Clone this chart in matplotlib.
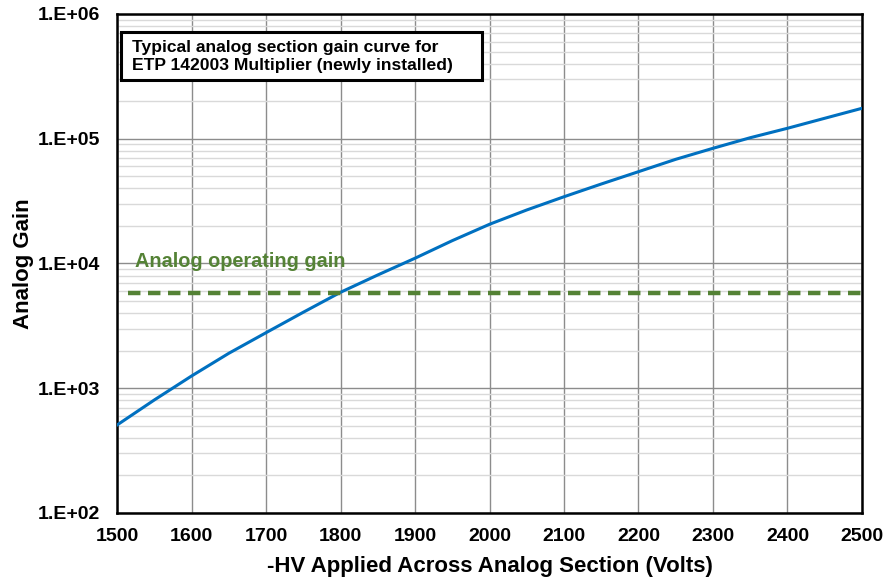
import math
import matplotlib
matplotlib.use("Agg")
import matplotlib.pyplot as plt
from matplotlib.patches import Rectangle
from matplotlib.ticker import LogLocator, FixedLocator, FuncFormatter

plt.rcParams['font.family'] = ['Liberation Sans', 'DejaVu Sans']
plt.rcParams['font.weight'] = 'bold'

# gain curve
hv_volts = [1500, 1550, 1600, 1650, 1700, 1750, 1800, 1850, 1900, 1950, 2000,
            2050, 2100, 2150, 2200, 2250, 2300, 2350, 2400, 2450, 2500]
analog_gain = [507, 805, 1253, 1905, 2787, 4065, 5875, 8090, 11020, 15240, 20620,
               26850, 34280, 43350, 54440, 68400, 83820, 101900, 121300, 145900, 175400]

operating_gain = 5800
operating_span = [1515, 2500]
x_ticks = list(range(1500, 2501, 100))

fig = plt.figure(figsize=(8.88, 5.78), dpi=100)
ax = fig.add_axes([0.1318, 0.1125, 0.8389, 0.8633])

ax.set_yscale('log')
ax.set_xlim(1500, 2500)
ax.set_ylim(1e2, 1e6)

# grid
ax.xaxis.set_major_locator(FixedLocator(x_ticks))
ax.yaxis.set_major_locator(LogLocator(base=10, numticks=10))
ax.yaxis.set_minor_locator(LogLocator(base=10, subs=range(2, 10), numticks=20))
ax.grid(True, which='major', color='#8c8c8c', linewidth=1.0)
ax.grid(True, which='minor', axis='y', color='#d9d9d9', linewidth=1.0)
ax.set_axisbelow(True)

ax.plot(hv_volts, analog_gain, color='#0070c0', linewidth=2.2, zorder=3)
ax.plot(operating_span, [operating_gain, operating_gain], color='#548235',
        linewidth=3.2, dashes=(2.8, 1.7), zorder=3)

ax.text(1524, 10300, 'Analog operating gain', color='#548235', fontsize=14.3,
        fontweight='bold', va='center', ha='left')

# title box
ax.add_patch(Rectangle((0.0054, 0.868), 0.4846, 0.0965, transform=ax.transAxes,
                       facecolor='white', edgecolor='black', linewidth=2.2, zorder=4))
ax.text(0.0196, 0.9145, 'Typical analog section gain curve for\nETP 142003 Multiplier (newly installed)',
        transform=ax.transAxes, fontsize=12.6, fontweight='bold', va='center', ha='left',
        linespacing=1.2, zorder=5)

ax.yaxis.set_major_formatter(FuncFormatter(lambda v, p: '1.E+%02d' % round(math.log10(v))))
ax.tick_params(axis='both', which='both', length=0, labelsize=14)
ax.tick_params(axis='x', pad=11)
ax.tick_params(axis='y', pad=12)
for lab in ax.get_xticklabels() + ax.get_yticklabels():
    lab.set_fontweight('bold')

ax.set_xlabel('-HV Applied Across Analog Section (Volts)', fontsize=16, fontweight='bold', labelpad=8)
ax.set_ylabel('Analog Gain', fontsize=16, fontweight='bold', labelpad=3)

for sp in ax.spines.values():
    sp.set_linewidth(1.8)
    sp.set_color('black')

fig.savefig('out.png', dpi=100)
